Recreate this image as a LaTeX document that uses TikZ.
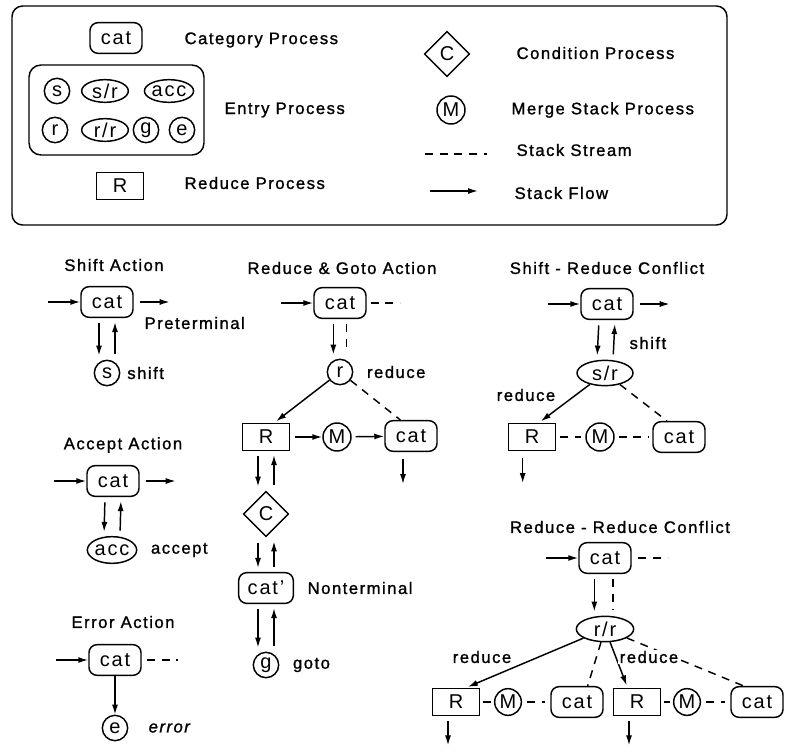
\documentclass[tikz,border=0pt]{standalone}
\usepackage{fontspec}
\setmainfont{Liberation Sans}[LetterSpace=9]
\newfontfamily\lbfam{Liberation Sans}[LetterSpace=9, FakeBold=1.2]
\usetikzlibrary{arrows.meta, shapes.geometric, positioning}
\newcommand{\ndfont}{\fontsize{15}{15}\selectfont}
\newcommand{\lbfont}{\lbfam\fontsize{12.5}{15}\selectfont}

\begin{document}
\begin{tikzpicture}[x=0.75pt, y=-0.75pt,
    catbox/.style={rectangle, rounded corners=6pt, draw, line width=1.1pt,
                   minimum width=39pt, minimum height=23pt, inner sep=1pt, font=\ndfont},
    redbox/.style={rectangle, draw, line width=1.1pt, minimum width=35pt,
                   minimum height=20pt, inner sep=1pt, font=\ndfont},
    ent/.style={circle, draw, line width=1.1pt, minimum size=19pt, inner sep=0pt, font=\ndfont},
    entov/.style={ellipse, draw, line width=1.1pt, minimum width=35pt,
                  minimum height=17pt, inner sep=0pt, font=\ndfont},
    mrg/.style={ent, minimum size=21pt},
    condbox/.style={diamond, draw, line width=1.1pt, minimum size=34pt, inner sep=0pt, font=\ndfont},
    flow/.style={-{Latex[length=7.5pt, width=4.5pt]}, line width=1.1pt},
    strm/.style={line width=1.1pt, dash pattern=on 6pt off 5pt},
    pair/.style={flow, shorten <=4pt, shorten >=3pt},
    lbl/.style={font=\lbfont, inner sep=1pt},
    ttl/.style={font=\lbfont}
]
\useasboundingbox (0,0) rectangle (785,753);

% legend
\draw[line width=1.1pt, rounded corners=8pt] (12,6) rectangle (727,225);
\node[catbox] (lcat) at (116,38) {cat};
\node[lbl, anchor=west] (tcat) at (183,40) {Category Process};
\node[ent] (ls) at (57,91) {s};
\node[entov] (lsr) at (105,91) {s/r};
\node[entov] (lacc) at (169,91) {acc};
\node[ent] (lr) at (55,130) {r};
\node[entov] (lrr) at (105,130) {r/r};
\node[ent] (lg) at (146,130) {g};
\node[ent] (le) at (182,130) {e};
\draw[line width=1.1pt, rounded corners=9pt] (29,65) rectangle (204,155);
\node[lbl, anchor=west] (tent) at (223,110) {Entry Process};
\node[redbox] (lred) at (120,186) {R};
\node[lbl, anchor=west] (tred) at (183,183) {Reduce Process};
\node[condbox] (lcond) at (447,54) {C};
\node[lbl, anchor=west] (tcond) at (515,53) {Condition Process};
\node[mrg] (lmrg) at (451,110) {M};
\node[lbl, anchor=west] (tmrg) at (510,110) {Merge Stack Process};
\coordinate (lstrm) at (425,154);
\coordinate (lstrm2) at (487,154);
\draw[strm] (lstrm) -- (lstrm2);
\node[lbl, anchor=west] (tstrm) at (515,150) {Stack Stream};
\coordinate (lflow) at (430,191);
\coordinate (lflow2) at (478,191);
\draw[flow] (lflow) -- (lflow2);
\node[lbl, anchor=west] (tflow) at (513,193) {Stack Flow};

% shift action
\node[ttl] (t1) at (114,265) {Shift Action};
\node[catbox] (c1) at (107,302) {cat};
\node[ent] (s1) at (107,373) {s};
\draw[flow] ([xshift=-24pt]c1.west) -- (c1.west);
\draw[flow] ([xshift=5pt]c1.east) -- +(22pt,0);
\draw[pair] ([xshift=-6pt]c1.south) -- ([xshift=-6pt]s1.north);
\draw[pair] ([xshift=6pt]s1.north) -- ([xshift=6pt]c1.south);
\node[lbl, anchor=west] at (143,323) {Preterminal};
\node[lbl, right=4pt of s1] {shift};

% accept action
\node[ttl] (t2) at (123,445) {Accept Action};
\node[catbox] (c2) at (113,481) {cat};
\node[entov, minimum width=37pt, minimum height=20pt] (a2) at (112,550) {acc};
\draw[flow] ([xshift=-24pt]c2.west) -- (c2.west);
\draw[flow] ([xshift=5pt]c2.east) -- +(22pt,0);
\draw[pair] ([xshift=-6pt]c2.south) -- ([xshift=-6pt]a2.north);
\draw[pair] ([xshift=6pt]a2.north) -- ([xshift=6pt]c2.south);
\node[lbl, right=9pt of a2] {accept};

% error action
\node[ttl] (t3) at (123,622) {Error Action};
\node[catbox] (c3) at (115,660) {cat};
\node[ent] (e3) at (115,728) {e};
\draw[flow] ([xshift=-24pt]c3.west) -- (c3.west);
\draw[strm] ([xshift=4pt]c3.east) -- +(23pt,0);
\draw[flow] (c3) -- (e3);
\node[lbl, right=14pt of e3, font=\lbfont\itshape] {error};

% reduce & goto action
\node[ttl] (t4) at (342,268) {Reduce \& Goto Action};
\node[catbox] (c4) at (340,303) {cat};
\node[ent] (r4) at (340,372) {r};
\draw[flow] ([xshift=-24pt]c4.west) -- (c4.west);
\draw[strm] ([xshift=3pt]c4.east) -- +(22pt,0);
\draw[pair] ([xshift=-5pt]c4.south) -- ([xshift=-5pt]r4.north);
\draw[strm, shorten <=4pt, shorten >=5pt] ([xshift=5pt]c4.south) -- ([xshift=5pt]r4.north);
\node[lbl, right=9pt of r4] {reduce};
\node[redbox] (R4) at (266,437) {R};
\node[mrg] (M4) at (337,437) {M};
\node[catbox] (cb4) at (411,436) {cat};
\draw[flow, shorten >=2pt] (r4) -- ([xshift=6pt]R4.north);
\draw[strm] (r4) -- ([xshift=-8pt]cb4.north);
\draw[flow, shorten <=4pt] (R4) -- (M4);
\draw[flow, shorten <=3pt] (M4) -- (cb4);
\draw[flow, shorten <=5pt] ([xshift=-6pt]cb4.south) -- +(0,-24pt);
\node[condbox] (C4) at (266,514) {C};
\node[catbox, minimum width=41pt] (cp4) at (266,588) {cat'};
\node[ent] (g4) at (266,665) {g};
\draw[pair] ([xshift=-6pt]R4.south) -- ([xshift=-6pt]C4.north);
\draw[pair] ([xshift=6pt]C4.north) -- ([xshift=6pt]R4.south);
\draw[pair] ([xshift=-6pt]C4.south) -- ([xshift=-6pt]cp4.north);
\draw[pair] ([xshift=6pt]cp4.north) -- ([xshift=6pt]C4.south);
\draw[pair] ([xshift=-6pt]cp4.south) -- ([xshift=-6pt]g4.north);
\draw[pair] ([xshift=6pt]g4.north) -- ([xshift=6pt]cp4.south);
\node[lbl, right=9pt of cp4] {Nonterminal};
\node[lbl, right=9pt of g4] {goto};

% shift - reduce conflict
\node[ttl] (t5) at (607,268) {Shift - Reduce Conflict};
\node[catbox] (c5) at (607,304) {cat};
\node[entov, minimum width=42pt, minimum height=19pt] (sr5) at (605,373) {s/r};
\draw[flow] ([xshift=-24pt]c5.west) -- (c5.west);
\draw[flow] ([xshift=5pt]c5.east) -- +(22pt,0);
\draw[pair] ([xshift=-6pt]c5.south) -- ([xshift=-6pt]sr5.north);
\draw[pair] ([xshift=6pt]sr5.north) -- ([xshift=6pt]c5.south);
\node[lbl, anchor=west] at (628,343) {shift};
\node[lbl] at (526,395) {reduce};
\node[redbox] (R5) at (532,437) {R};
\node[mrg] (M5) at (600,437) {M};
\node[catbox] (cb5) at (679,437) {cat};
\draw[flow, shorten >=2pt] (sr5) -- ([xshift=5pt]R5.north);
\draw[strm] (sr5) -- ([xshift=-9pt]cb5.north);
\draw[strm, shorten <=3pt, shorten >=3pt] (R5) -- (M5);
\draw[strm, shorten <=3pt, shorten >=3pt] (M5) -- (cb5);
\draw[flow, shorten <=5pt] ([xshift=-7pt]R5.south) -- +(0,-24pt);

% reduce - reduce conflict
\node[ttl] (t6) at (620,527) {Reduce - Reduce Conflict};
\node[catbox] (c6) at (605,558) {cat};
\node[entov, minimum width=43pt, minimum height=19pt] (rr6) at (605,629) {r/r};
\draw[flow] ([xshift=-24pt]c6.west) -- (c6.west);
\draw[strm] ([xshift=5pt]c6.east) -- +(22pt,0);
\draw[pair] ([xshift=-8pt]c6.south) -- ([xshift=-8pt]rr6.north);
\draw[strm, shorten <=4pt, shorten >=4pt] ([xshift=6pt]c6.south) -- ([xshift=6pt]rr6.north);
\node[redbox] (R6a) at (456,702) {R};
\node[mrg, minimum size=20pt] (M6a) at (508,702) {M};
\node[catbox] (c6a) at (577,702) {cat};
\node[redbox] (R6b) at (637,702) {R};
\node[mrg, minimum size=20pt] (M6b) at (687,702) {M};
\node[catbox] (c6b) at (757,702) {cat};
\draw[flow, shorten >=2pt] (rr6) -- ([xshift=7pt]R6a.north);
\draw[strm] (rr6) -- ([xshift=8pt]c6a.north);
\draw[flow, shorten >=2pt] (rr6) -- ([xshift=-7pt]R6b.north);
\draw[strm] (rr6) -- ([xshift=-10pt]c6b.north);
\node[lbl] at (482,657) {reduce};
\node[lbl, fill=white] at (649,657) {reduce};
\draw[strm, shorten <=2pt, shorten >=2pt] (R6a) -- (M6a);
\draw[strm, shorten <=4pt, shorten >=4pt] (M6a) -- (c6a);
\draw[strm, shorten <=2pt, shorten >=2pt] (R6b) -- (M6b);
\draw[strm, shorten <=4pt, shorten >=4pt] (M6b) -- (c6b);
\draw[flow, shorten <=4pt] ([xshift=-6pt]R6a.south) -- +(0,-22pt);
\draw[flow, shorten <=4pt] ([xshift=-6pt]R6b.south) -- +(0,-22pt);
\end{tikzpicture}
\end{document}
